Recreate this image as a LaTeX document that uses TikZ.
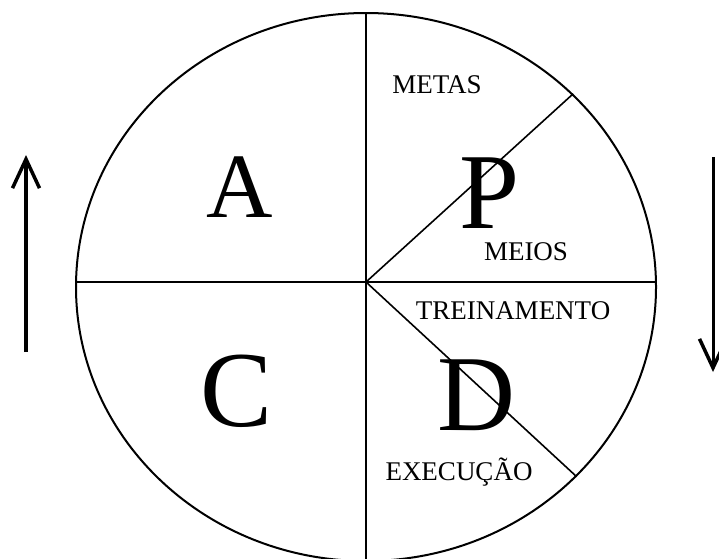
\documentclass[tikz,border=0pt]{standalone}
\usepackage{fontspec}
\setmainfont{Liberation Serif}
\usetikzlibrary{shapes.geometric, arrows.meta, positioning, calc}
\tikzset{
  rotulo/.style={font=\fontsize{27}{27}\selectfont, anchor=base, inner sep=0pt},
  letra/.style={font=\fontsize{108}{108}\selectfont, anchor=base, inner sep=0pt},
  divisao/.style={line width=1.6pt, color=black},
  seta/.style={-{Straight Barb[length=29pt, width=27pt, line width=3.5pt]}, line width=4pt, color=black}
}
\begin{document}
\begin{tikzpicture}[x=1pt, y=-1pt]
    \useasboundingbox (0,0) rectangle (719,558);
    % Circle of the cycle
    \node[draw, ellipse, line width=2pt, minimum width=580pt, minimum height=548pt,
      inner sep=0pt] (ciclo) at (366,287) {};
    \coordinate (centro) at (366,282);

    % Quadrants
    \draw[divisao] (ciclo.north) -- (ciclo.south);
    \draw[divisao] (ciclo.west |- centro) -- (ciclo.east |- centro);
    \draw[divisao] (centro) -- (ciclo.43);
    \draw[divisao] (centro) -- (ciclo.-42);

    % Letters
    \node[letra, font=\fontsize{92}{92}\selectfont] (A) at (240,217) {A};
    \node[letra] (P) at (490,228) {P};
    \node[letra] (C) at (237,426) {C};
    \node[letra] (D) at (476,430) {D};

    % Labels
    \node[rotulo] (metas) at (437,93) {METAS};
    \node[rotulo] (meios) at (526,260) {MEIOS};
    \node[rotulo] (treino) at (513,319) {TREINAMENTO};
    \node[rotulo] (exec) at (459,480) {EXECUÇÃO};

    % Arrows
    \coordinate (esqbaixo) at (26,352);
    \coordinate (esqcima) at (26,155);
    \coordinate (dircima) at (713,157);
    \coordinate (dirbaixo) at (713,372);
    \draw[seta] (esqbaixo) -- (esqcima);
    \draw[seta, line width=3pt] (dircima) -- (dirbaixo);
\end{tikzpicture}
\end{document}
